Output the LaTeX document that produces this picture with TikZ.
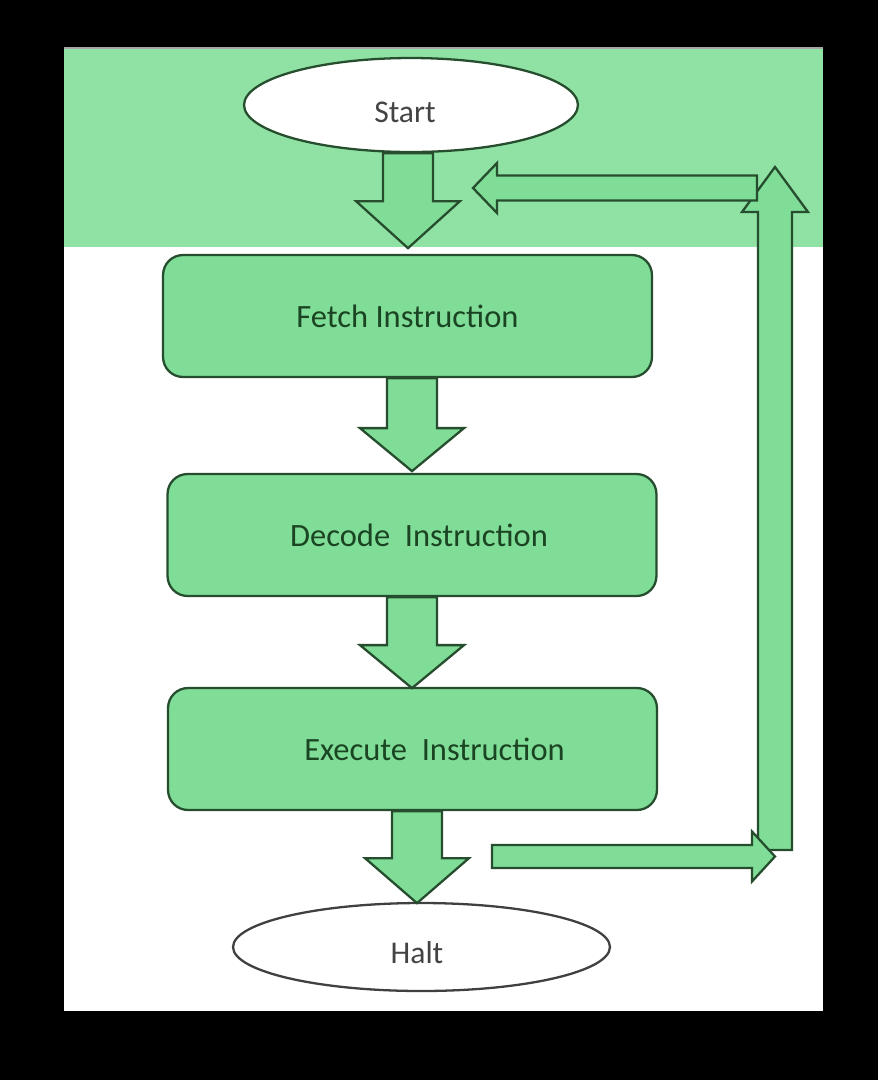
\documentclass[tikz,border=0pt]{standalone}
\usepackage{fontspec}
\setmainfont{Carlito}
\usetikzlibrary{shapes.geometric,calc}
\definecolor{bandgreen}{RGB}{143,226,163}
\definecolor{boxgreen}{RGB}{128,221,151}
\definecolor{edgegreen}{RGB}{38,78,46}
\definecolor{labelgreen}{RGB}{26,68,34}
\definecolor{labelgray}{RGB}{68,68,68}
\tikzset{
  terminal/.style={ellipse, draw=edgegreen, fill=white, line width=1.3pt, inner sep=0pt,
    text=labelgray, font=\fontsize{18}{20}\selectfont},
  stepbox/.style={rectangle, rounded corners=0.4cm, draw=edgegreen, fill=boxgreen, line width=1.3pt,
    minimum width=9.78cm, minimum height=2.44cm, inner sep=0pt,
    text=labelgreen, font=\fontsize{18.5}{22}\selectfont},
  blockarrow/.style={draw=edgegreen, fill=boxgreen, line width=1.3pt, line join=miter}
}
% fat arrow: tail, angle, length, shaft half width, head half width, head length
\newcommand{\fatarrow}[6]{%
  \begin{scope}[shift={(#1)}, rotate=#2]
    \draw[blockarrow] (0,-#4) -- (#3-#6,-#4) -- (#3-#6,-#5) -- (#3,0)
      -- (#3-#6,#5) -- (#3-#6,#4) -- (0,#4) -- cycle;
  \end{scope}}
\begin{document}
\begin{tikzpicture}[x=0.02cm, y=-0.02cm]
  % background and panel
  \fill[black] (0,0) rectangle (878,1080);
  \useasboundingbox (0,0) rectangle (878,1080);
  \fill[white] (64,48) rectangle (823,1011);
  \fill[bandgreen] (64,48) rectangle (823,247);
  \draw[gray!70, line width=0.8pt] (64,48) -- (823,48);

  % Steps
  \node[terminal, minimum width=6.68cm, minimum height=1.88cm] (start) at (411,105)
    {\hspace*{-0.24cm}\raisebox{-0.34cm}[0pt][0pt]{Start}};
  \node[stepbox] (fetch) at (407.5,316) {Fetch Instruction};
  \node[stepbox] (decode) at (412,535) {\hspace*{0.28cm}Decode\ \ Instruction};
  \node[stepbox] (execute) at (412.5,749) {\hspace*{0.88cm}Execute\ \ Instruction};
  \node[terminal, draw=black!75, minimum width=7.54cm, minimum height=1.76cm] (halt) at (421.5,947)
    {\hspace*{-0.18cm}\raisebox{-0.32cm}[0pt][0pt]{Halt}};

  % Down arrows between steps
  \fatarrow{$(start.south)+(-3,0)$}{-90}{95}{25}{52}{47}
  \fatarrow{$(fetch.south)+(4.5,0)$}{-90}{93}{25}{52}{43}
  \fatarrow{decode.south}{-90}{91}{25}{52}{43}
  \fatarrow{$(execute.south)+(4.5,0)$}{-90}{92}{25}{52}{45}

  % Loop back to fetch
  \coordinate (loopout) at (492,856.5);
  \coordinate (loopup) at (775,850);
  \coordinate (loopback) at (757,188);
  \fatarrow{loopup}{90}{683}{17}{33}{45}
  \fatarrow{loopout}{0}{283}{11.5}{25}{23}
  \fatarrow{loopback}{180}{284}{12.5}{25}{24}
\end{tikzpicture}
\end{document}
